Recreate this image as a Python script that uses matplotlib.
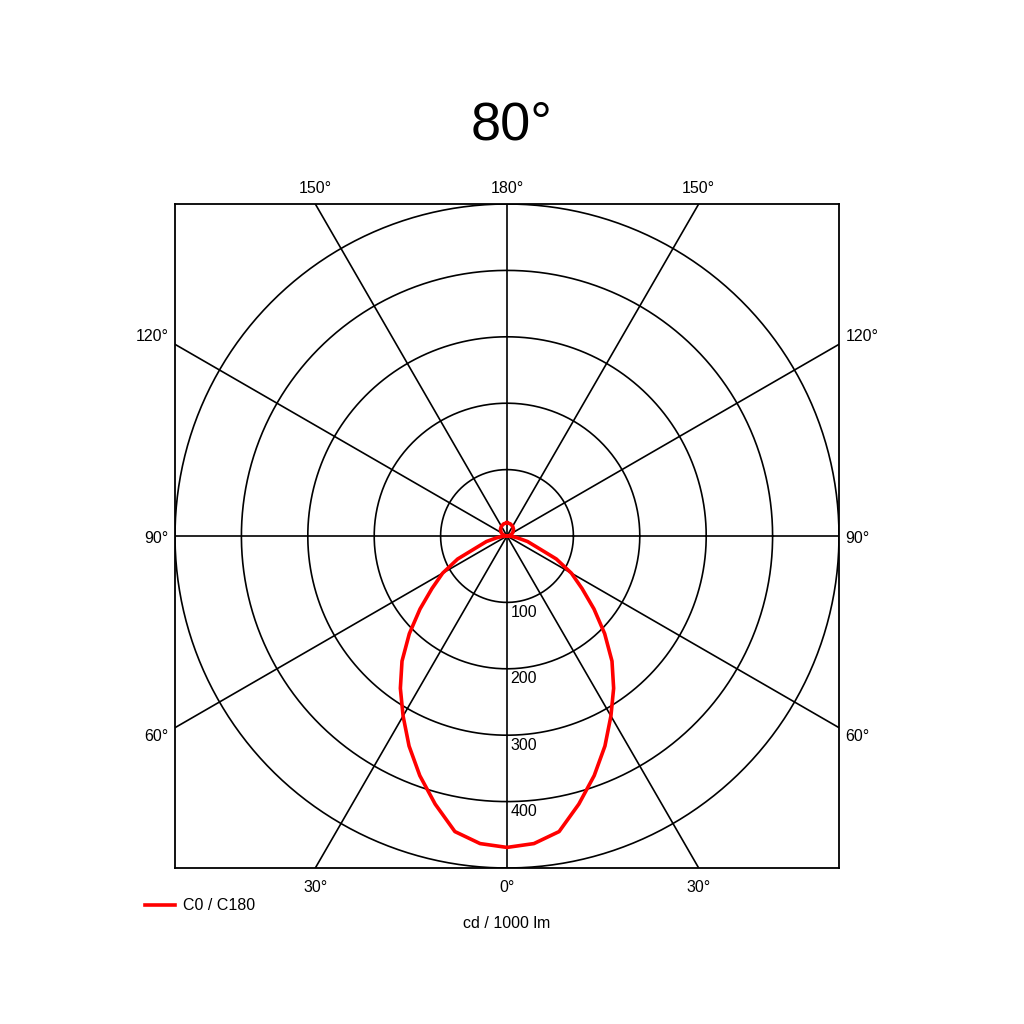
import numpy as np
import matplotlib.pyplot as plt

plt.rcParams['font.family'] = ['Liberation Sans', 'DejaVu Sans']

# Lichtstärkeverteilung C0 / C180 (cd / 1000 lm), Winkel von nadir aus
gamma = [0, 5, 10, 15, 20, 25, 30, 35, 40, 45, 50, 55, 60, 65, 70, 75, 80, 85, 90,
         100, 110, 120, 135, 150, 165, 180]
intensity = [469, 465, 452, 418, 384, 349, 313, 280, 246, 208, 171, 138, 112, 82, 46, 32, 16, 7, 0,
             3, 7, 10, 14, 17, 19, 20]
rings = [100, 200, 300, 400, 500]
ring_labels = ['100', '200', '300', '400']
spokes = [0, 30, 60, 90, 120, 150]

title = '80°'
r_max = 500


def zeichnen():
    fig = plt.figure(figsize=(10.24, 10.24), dpi=100)
    ax = fig.add_axes([175 / 1024, 1 - 868 / 1024, 664 / 1024, 664 / 1024])
    ax.set_xlim(-r_max, r_max)
    ax.set_ylim(-r_max, r_max)
    ax.set_aspect('equal')
    ax.set_xticks([])
    ax.set_yticks([])
    for s in ax.spines.values():
        s.set_linewidth(1.3)

    # Kreise
    t = np.linspace(0, 2 * np.pi, 400)
    for r in rings:
        ax.plot(r * np.cos(t), r * np.sin(t), color='black', lw=1.2)

    # Strahlen
    for a in spokes:
        rad = np.radians(a)
        ax.plot([-1000 * np.sin(rad), 1000 * np.sin(rad)],
                [1000 * np.cos(rad), -1000 * np.cos(rad)], color='black', lw=1.2)

    # Kurve (symmetrisch C0 / C180)
    g = np.radians(np.array(gamma, dtype=float))
    i = np.array(intensity, dtype=float)
    g_all = np.concatenate([-g[::-1], g[1:]])
    i_all = np.concatenate([i[::-1], i[1:]])
    x = i_all * np.sin(g_all)
    y = -i_all * np.cos(g_all)
    linie, = ax.plot(x, y, color='#ff0000', lw=2.6, label='C0 / C180', zorder=5)

    # Ringbeschriftung
    for r, lab in zip(rings, ring_labels):
        ax.text(5, -r - 4, lab, ha='left', va='top', fontsize=11.5)

    # Winkelbeschriftung
    off = r_max * np.tan(np.radians(30))
    fs = 11.5
    for xx, lab in [(-off, '30°'), (0, '0°'), (off, '30°')]:
        ax.text(xx, -r_max - 30, lab, ha='center', va='center', fontsize=fs, clip_on=False)
    for xx, lab in [(-off, '150°'), (0, '180°'), (off, '150°')]:
        ax.text(xx, r_max + 24, lab, ha='center', va='center', fontsize=fs, clip_on=False)
    for yy, lab in [(300, '120°'), (-4, '90°'), (-302, '60°')]:
        ax.text(-r_max - 10, yy, lab, ha='right', va='center', fontsize=fs, clip_on=False)
        ax.text(r_max + 10, yy, lab, ha='left', va='center', fontsize=fs, clip_on=False)

    fig.text(0.5, 1 - 125 / 1024, title, ha='center', va='center', fontsize=39)
    fig.text(507 / 1024, 1 - 923 / 1024, 'cd / 1000 lm', ha='center', va='center', fontsize=11.5)

    fig.legend(handles=[linie], loc='center left', bbox_to_anchor=(145 / 1024, 1 - 906 / 1024),
               frameon=False, fontsize=11.5, borderpad=0, borderaxespad=0,
               handlelength=1.9, handletextpad=0.45)

    fig.savefig('out.png', dpi=100, facecolor='white')


if __name__ == '__main__':
    zeichnen()
